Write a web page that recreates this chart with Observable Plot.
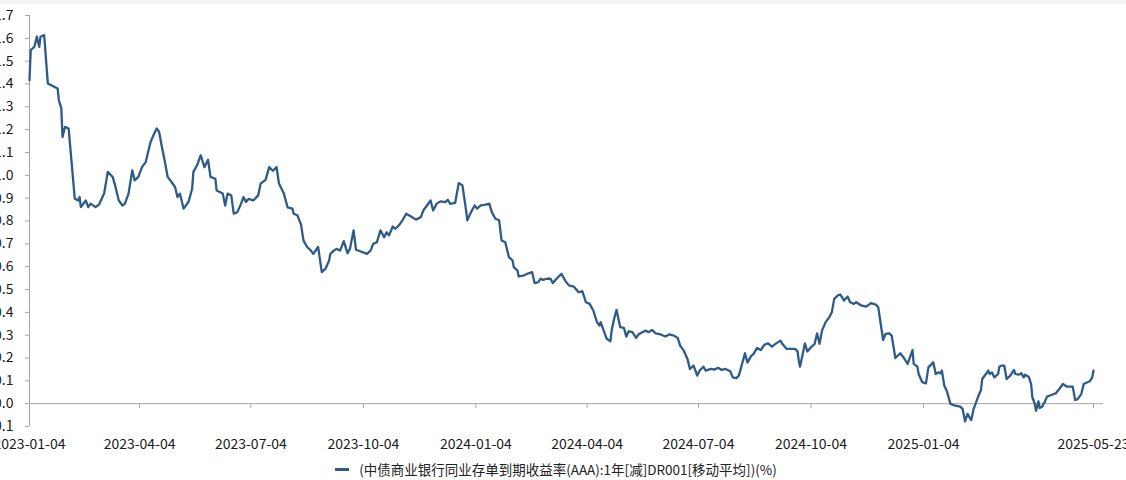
<!DOCTYPE html>
<html>
<head>
<meta charset="utf-8">
<script src="https://cdn.jsdelivr.net/npm/d3@7"></script>
<script src="https://cdn.jsdelivr.net/npm/@observablehq/plot@0.6"></script>
<style>
  html, body { margin: 0; padding: 0; background: #fff; overflow: hidden; }
  #topband { height: 4px; background: #f3f3f3; }
  #chart svg { overflow: visible; }
  #legend { font-family: "Noto Sans CJK SC", "Noto Sans", sans-serif; font-size: 13.5px; color: #222;
            display: flex; justify-content: center; align-items: center; height: 22px; margin-top: 0px; }
  #legend .sw { width: 14px; height: 3px; background: #2e5b8a; margin-right: 10px; margin-left: -14px; }
</style>
</head>
<body>
<div id="topband"></div>
<div id="chart"></div>
<div id="legend"><span class="sw"></span><span id="legendText"></span></div>
<script>
const seriesName = "(中债商业银行同业存单到期收益率(AAA):1年[减]DR001[移动平均])(%)";

const dates = [
"2023-01-04","2023-01-05","2023-01-08","2023-01-10","2023-01-12","2023-01-13","2023-01-16","2023-01-19","2023-01-27","2023-01-28",
"2023-01-30","2023-01-31","2023-02-02","2023-02-05","2023-02-08","2023-02-10","2023-02-13","2023-02-14","2023-02-15","2023-02-19",
"2023-02-21","2023-02-23","2023-02-27","2023-03-02","2023-03-06","2023-03-09","2023-03-13","2023-03-15","2023-03-18","2023-03-21",
"2023-03-23","2023-03-26","2023-03-29","2023-03-31","2023-04-03","2023-04-06","2023-04-09","2023-04-13","2023-04-16","2023-04-18",
"2023-04-20","2023-04-22","2023-04-25","2023-04-27","2023-05-01","2023-05-03","2023-05-05","2023-05-07","2023-05-10","2023-05-14",
"2023-05-17","2023-05-18","2023-05-21","2023-05-24","2023-05-27","2023-05-30","2023-06-01","2023-06-05","2023-06-06","2023-06-11",
"2023-06-13","2023-06-15","2023-06-18","2023-06-20","2023-06-23","2023-06-26","2023-06-28","2023-06-30","2023-07-02","2023-07-06",
"2023-07-10","2023-07-12","2023-07-16","2023-07-19","2023-07-22","2023-07-25","2023-07-27","2023-07-31","2023-08-03","2023-08-07",
"2023-08-08","2023-08-11","2023-08-14","2023-08-16","2023-08-19","2023-08-22","2023-08-24","2023-08-28","2023-08-31","2023-09-03",
"2023-09-06","2023-09-07","2023-09-10","2023-09-12","2023-09-15","2023-09-18","2023-09-21","2023-09-23","2023-09-26","2023-09-28",
"2023-10-07","2023-10-10","2023-10-12","2023-10-15","2023-10-18","2023-10-21","2023-10-23","2023-10-25","2023-10-28","2023-10-30",
"2023-11-02","2023-11-05","2023-11-08","2023-11-12","2023-11-16","2023-11-20","2023-11-22","2023-11-25","2023-11-28","2023-11-30",
"2023-12-03","2023-12-06","2023-12-10","2023-12-12","2023-12-14","2023-12-18","2023-12-21","2023-12-24","2023-12-27","2023-12-28",
"2023-12-31","2024-01-03","2024-01-05","2024-01-08","2024-01-11","2024-01-15","2024-01-17","2024-01-20","2024-01-23","2024-01-25",
"2024-01-28","2024-01-31","2024-02-03","2024-02-04","2024-02-07","2024-02-08","2024-02-12","2024-02-16","2024-02-19","2024-02-21",
"2024-02-24","2024-02-26","2024-02-28","2024-03-02","2024-03-05","2024-03-07","2024-03-10","2024-03-14","2024-03-17","2024-03-20",
"2024-03-24","2024-03-28","2024-03-31","2024-04-03","2024-04-06","2024-04-09","2024-04-12","2024-04-14","2024-04-15","2024-04-18",
"2024-04-20","2024-04-23","2024-04-24","2024-04-26","2024-04-28","2024-05-01","2024-05-04","2024-05-06","2024-05-08","2024-05-11",
"2024-05-14","2024-05-16","2024-05-19","2024-05-22","2024-05-24","2024-05-27","2024-05-30","2024-06-03","2024-06-07","2024-06-10",
"2024-06-14","2024-06-17","2024-06-19","2024-06-22","2024-06-25","2024-06-27","2024-06-30","2024-07-03","2024-07-05","2024-07-08",
"2024-07-10","2024-07-14","2024-07-17","2024-07-20","2024-07-23","2024-07-26","2024-07-30","2024-08-01","2024-08-04","2024-08-06",
"2024-08-09","2024-08-11","2024-08-13","2024-08-16","2024-08-18","2024-08-21","2024-08-24","2024-08-27","2024-08-30","2024-09-02",
"2024-09-05","2024-09-09","2024-09-11","2024-09-14","2024-09-17","2024-09-21","2024-09-23","2024-09-24","2024-09-25","2024-09-27",
"2024-09-29","2024-10-01","2024-10-04","2024-10-07","2024-10-09","2024-10-11","2024-10-13","2024-10-16","2024-10-19","2024-10-21",
"2024-10-23","2024-10-26","2024-10-28","2024-10-31","2024-11-03","2024-11-05","2024-11-08","2024-11-10","2024-11-14","2024-11-18",
"2024-11-22","2024-11-26","2024-11-28","2024-11-30","2024-12-02","2024-12-04","2024-12-07","2024-12-09","2024-12-12","2024-12-16",
"2024-12-19","2024-12-22","2024-12-26","2024-12-27","2024-12-30","2024-12-31","2025-01-03","2025-01-06","2025-01-08","2025-01-12",
"2025-01-14","2025-01-16","2025-01-18","2025-01-19","2025-01-21","2025-01-23","2025-01-26","2025-01-30","2025-02-03","2025-02-05",
"2025-02-07","2025-02-09","2025-02-12","2025-02-14","2025-02-16","2025-02-18","2025-02-20","2025-02-21","2025-02-24","2025-02-26",
"2025-02-27","2025-03-01","2025-03-03","2025-03-06","2025-03-07","2025-03-09","2025-03-11","2025-03-13","2025-03-16","2025-03-19",
"2025-03-20","2025-03-23","2025-03-25","2025-03-27","2025-03-28","2025-03-31","2025-04-02","2025-04-03","2025-04-05","2025-04-06",
"2025-04-08","2025-04-09","2025-04-11","2025-04-13","2025-04-15","2025-04-19","2025-04-22","2025-04-25","2025-04-28","2025-05-01",
"2025-05-04","2025-05-06","2025-05-08","2025-05-10","2025-05-13","2025-05-15","2025-05-18","2025-05-20","2025-05-22","2025-05-23"
];

const values = [
1.417,1.548,1.563,1.607,1.563,1.607,1.614,1.402,1.380,1.329,
1.294,1.168,1.212,1.205,1.022,0.898,0.890,0.905,0.861,0.890,
0.861,0.876,0.861,0.873,0.920,1.015,0.993,0.956,0.890,0.868,
0.876,0.920,1.022,0.978,0.993,1.036,1.058,1.146,1.183,1.205,
1.190,1.132,1.051,0.993,0.964,0.949,0.905,0.920,0.854,0.883,
0.942,1.015,1.044,1.088,1.036,1.068,0.993,0.985,0.934,0.920,
0.868,0.920,0.912,0.832,0.839,0.876,0.905,0.883,0.897,0.890,
0.912,0.964,0.980,1.036,1.020,1.036,0.964,0.920,0.860,0.854,
0.832,0.825,0.785,0.715,0.686,0.671,0.656,0.686,0.576,0.591,
0.627,0.656,0.671,0.678,0.671,0.712,0.659,0.678,0.759,0.674,
0.656,0.671,0.700,0.707,0.759,0.729,0.751,0.737,0.776,0.766,
0.781,0.803,0.832,0.820,0.806,0.817,0.846,0.868,0.890,0.846,
0.876,0.886,0.883,0.893,0.875,0.879,0.966,0.956,0.846,0.803,
0.839,0.868,0.854,0.868,0.871,0.876,0.839,0.810,0.803,0.715,
0.707,0.642,0.627,0.598,0.583,0.557,0.561,0.571,0.576,0.528,
0.532,0.547,0.542,0.547,0.547,0.528,0.547,0.569,0.539,0.518,
0.513,0.488,0.493,0.444,0.437,0.408,0.357,0.342,0.357,0.313,
0.284,0.273,0.320,0.371,0.411,0.335,0.332,0.294,0.317,0.313,
0.288,0.303,0.313,0.320,0.313,0.323,0.308,0.303,0.294,0.303,
0.298,0.288,0.254,0.232,0.196,0.152,0.167,0.123,0.145,0.162,
0.145,0.152,0.149,0.157,0.148,0.152,0.142,0.115,0.112,0.123,
0.181,0.221,0.180,0.208,0.218,0.244,0.235,0.259,0.264,0.250,
0.262,0.276,0.259,0.240,0.240,0.240,0.229,0.189,0.162,0.211,
0.264,0.229,0.247,0.262,0.308,0.262,0.320,0.357,0.379,0.400,
0.459,0.474,0.478,0.452,0.469,0.444,0.437,0.444,0.430,0.425,
0.440,0.434,0.422,0.350,0.279,0.306,0.308,0.298,0.200,0.221,
0.200,0.174,0.235,0.174,0.162,0.130,0.094,0.089,0.159,0.181,
0.130,0.137,0.133,0.145,0.079,0.057,-0.001,-0.009,-0.013,-0.023,
-0.078,-0.045,-0.072,-0.023,0.006,0.035,0.060,0.108,0.130,0.145,
0.130,0.137,0.115,0.130,0.162,0.167,0.167,0.108,0.123,0.148,
0.130,0.127,0.133,0.115,0.127,0.118,0.086,0.028,-0.001,-0.031,
0.010,-0.019,-0.013,0.006,0.031,0.039,0.045,0.064,0.086,0.075,
0.075,0.075,0.016,0.020,0.042,0.086,0.094,0.098,0.115,0.145
];

const xTickLabels = ["2023-01-04","2023-04-04","2023-07-04","2023-10-04","2024-01-04","2024-04-04","2024-07-04","2024-10-04","2025-01-04","2025-05-23"];
const yTicks = [-0.1,0.0,0.1,0.2,0.3,0.4,0.5,0.6,0.7,0.8,0.9,1.0,1.1,1.2,1.3,1.4,1.5,1.6,1.7];

const parse = d3.utcParse("%Y-%m-%d");
const data = dates.map((d, i) => ({date: parse(d), value: values[i]}));
const xTicks = xTickLabels.map(parse);

const lineColor = "#2e5b8a";
const axisColor = "#a6a6a6";

const chart = Plot.plot({
  width: 1126,
  height: 454,
  marginLeft: 29,
  marginRight: 33,
  marginTop: 11,
  marginBottom: 32,
  style: {fontFamily: "'Noto Sans CJK SC', 'Noto Sans', sans-serif", fontSize: "14px", color: "#1a1a1a", background: "#fff"},
  x: {type: "utc", domain: [xTicks[0], xTicks[xTicks.length - 1]]},
  y: {domain: [-0.1, 1.7]},
  marks: [
    Plot.ruleY([0], {stroke: axisColor, strokeWidth: 1, insetRight: -10}),
    Plot.ruleX([xTicks[0]], {y1: -0.1, y2: 1.7, stroke: axisColor, strokeWidth: 1}),
    Plot.ruleX(xTicks, {y1: 0, y2: -0.022, stroke: axisColor, strokeWidth: 1}),
    Plot.axisY({ticks: yTicks, tickFormat: d3.format(".1f"), tickSize: 4, tickPadding: 12, stroke: axisColor, label: null}),
    Plot.axisX({ticks: xTicks, tickFormat: d3.utcFormat("%Y-%m-%d"), tickSize: 0, tickPadding: 13, label: null}),
    Plot.line(data, {x: "date", y: "value", stroke: lineColor, strokeWidth: 2.3, curve: "linear"})
  ]
});
document.getElementById("chart").appendChild(chart);
document.getElementById("legendText").textContent = seriesName;
</script>
</body>
</html>
